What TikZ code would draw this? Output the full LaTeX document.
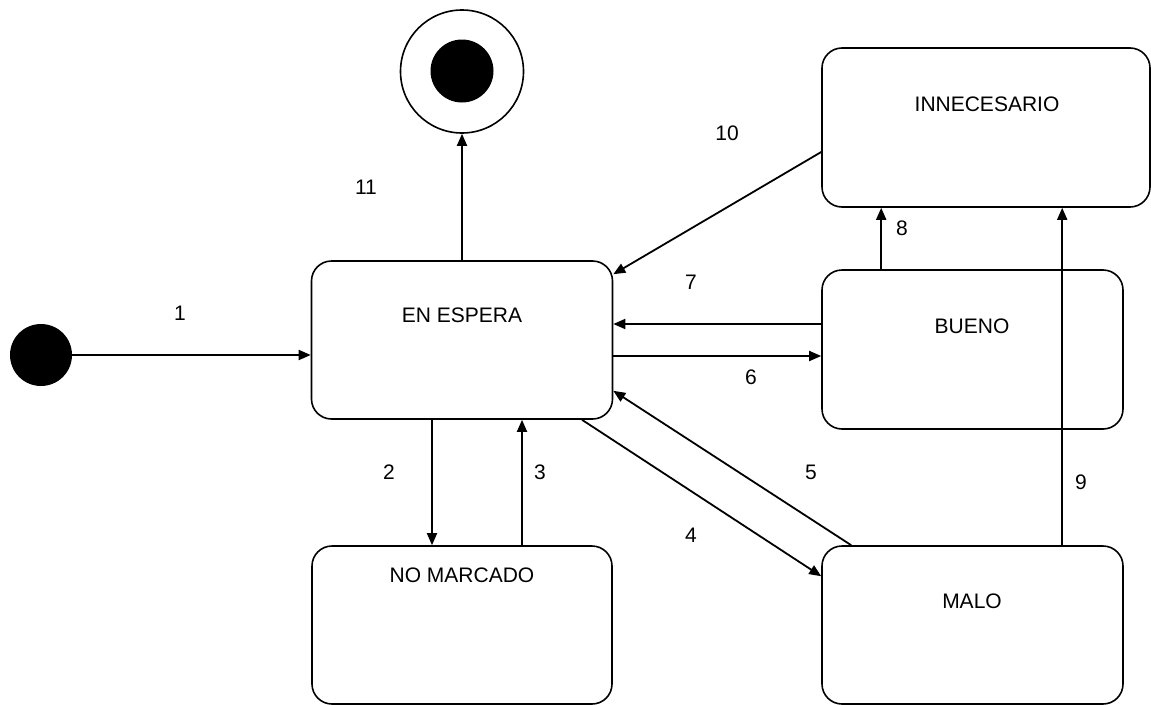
\documentclass[tikz,border=0pt]{standalone}
\usepackage{fontspec}
\setmainfont{Liberation Sans}
\usetikzlibrary{arrows.meta}
\begin{document}
\begin{tikzpicture}[x=1pt,y=-1pt,
  every node/.style={font=\fontsize{21}{25}\selectfont},
  statebox/.style={draw, line width=1.6pt, rounded corners=20pt, inner sep=0pt},
  lbl/.style={inner sep=0pt},
  conn/.style={line width=1.8pt, -{Triangle[length=12pt,width=10pt]}}]
\useasboundingbox (0,0) rectangle (1151,704);
% states
\node[circle, fill=black, minimum size=62pt, inner sep=0pt] (init) at (41,355) {};
\node[circle, draw, line width=1.6pt, minimum size=123pt, inner sep=0pt] (final) at (462,71.5) {};
\node[circle, fill=black, minimum size=63pt, inner sep=0pt] (finaldot) at (462,71) {};
\node[statebox, minimum width=301pt, minimum height=158pt] (esp) at (462,340) {};
\node[statebox, minimum width=300pt, minimum height=158pt] (nom) at (462,625) {};
\node[statebox, minimum width=328pt, minimum height=159pt] (inn) at (986,127.5) {};
\node[statebox, minimum width=301pt, minimum height=159pt] (bue) at (972.5,349.5) {};
\node[statebox, minimum width=301pt, minimum height=158pt] (mal) at (972.5,625) {};
% state texts
\node[lbl] (tesp) at (462,315) {EN ESPERA};
\node[lbl] (tnom) at (462,575) {NO MARCADO};
\node[lbl] (tinn) at (987,104) {INNECESARIO};
\node[lbl] (tbue) at (972,326) {BUENO};
\node[lbl] (tmal) at (972,601) {MALO};
% connectors
\draw[conn] (init.east) -- (init.east -| esp.west);
\draw[conn] (esp.north) -- (final.south);
\draw[conn] ([xshift=-30pt]esp.south) -- ([xshift=-30pt]esp.south |- nom.north);
\draw[conn] ([xshift=60pt]nom.north) -- ([xshift=60pt]nom.north |- esp.south);
\draw[conn] ([xshift=120pt]esp.south) -- ([yshift=-31pt]mal.north west);
\draw[conn] ([xshift=30pt]mal.north west) -- ([yshift=29pt]esp.south east);
\draw[conn] ([yshift=-16pt]esp.east) -- ([yshift=-16pt]esp.east -| bue.west);
\draw[conn] ([yshift=16pt]esp.east -| bue.west) -- ([yshift=16pt]esp.east);
\draw[conn] ([xshift=60pt]bue.north west) -- ([xshift=60pt]bue.north west |- inn.south);
\draw[conn] ([xshift=241pt]mal.north west) -- ([xshift=241pt]mal.north west |- inn.south);
\draw[conn] ([yshift=-24.5pt]inn.west) -- ([yshift=-14pt]esp.north east);
% transition labels
\node[lbl] (l1) at (180,313) {1};
\node[lbl] (l2) at (389,472) {2};
\node[lbl] (l3) at (540,472) {3};
\node[lbl] (l4) at (691,535) {4};
\node[lbl] (l5) at (811,472) {5};
\node[lbl] (l6) at (751,377) {6};
\node[lbl] (l7) at (691,282) {7};
\node[lbl] (l8) at (902,228) {8};
\node[lbl] (l9) at (1081,482) {9};
\node[lbl] (l10) at (727,133) {10};
\node[lbl] (l11) at (366,187) {11};
\end{tikzpicture}
\end{document}
